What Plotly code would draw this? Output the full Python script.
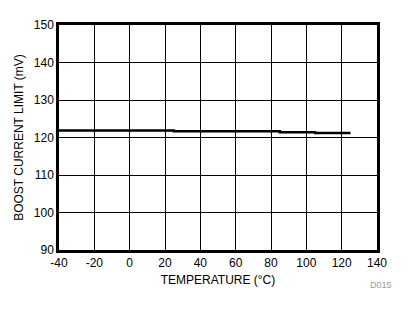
import plotly.graph_objects as go

temps = [-40, 25, 85, 105, 125]
limit_mv = [121.9, 121.7, 121.4, 121.2, 121.2]

x_ticks = [-40, -20, 0, 20, 40, 60, 80, 100, 120, 140]
x_labels = ["-40", "-20", "0", "20", "40", "60", "80", "100", "120", "140"]
y_ticks = [90, 100, 110, 120, 130, 140, 150]

fig = go.Figure()
fig.add_trace(go.Scatter(x=temps, y=limit_mv, mode="lines", line=dict(color="black", width=2.5, shape="hv"),
                         showlegend=False, hoverinfo="skip"))

font = dict(family="Liberation Sans, Arial, sans-serif", size=12, color="black")
fig.update_layout(
    width=410, height=312,
    margin=dict(l=59, r=33, t=25, b=62),
    paper_bgcolor="white", plot_bgcolor="white",
    font=font,
    xaxis=dict(range=[-40, 140], tickvals=x_ticks, ticktext=x_labels, showgrid=True, gridcolor="black", gridwidth=1,
               showline=True, linecolor="black", linewidth=2.5, mirror=True, ticks="", zeroline=False,
               title=dict(text="TEMPERATURE (°C)", standoff=7, font=font), tickfont=font),
    yaxis=dict(range=[90, 150], tickvals=y_ticks, showgrid=True, gridcolor="black", gridwidth=1,
               showline=True, linecolor="black", linewidth=2.5, mirror=True, ticks="", zeroline=False,
               title=dict(text="BOOST CURRENT LIMIT (mV)", standoff=8, font=font), tickfont=font),
    annotations=[dict(text="D015", xref="paper", yref="paper", x=1.053, y=-0.156, xanchor="right", yanchor="middle",
                      showarrow=False, font=dict(family="Liberation Sans, Arial, sans-serif", size=9, color="#999999"))],
)
fig.write_html("out.html")
